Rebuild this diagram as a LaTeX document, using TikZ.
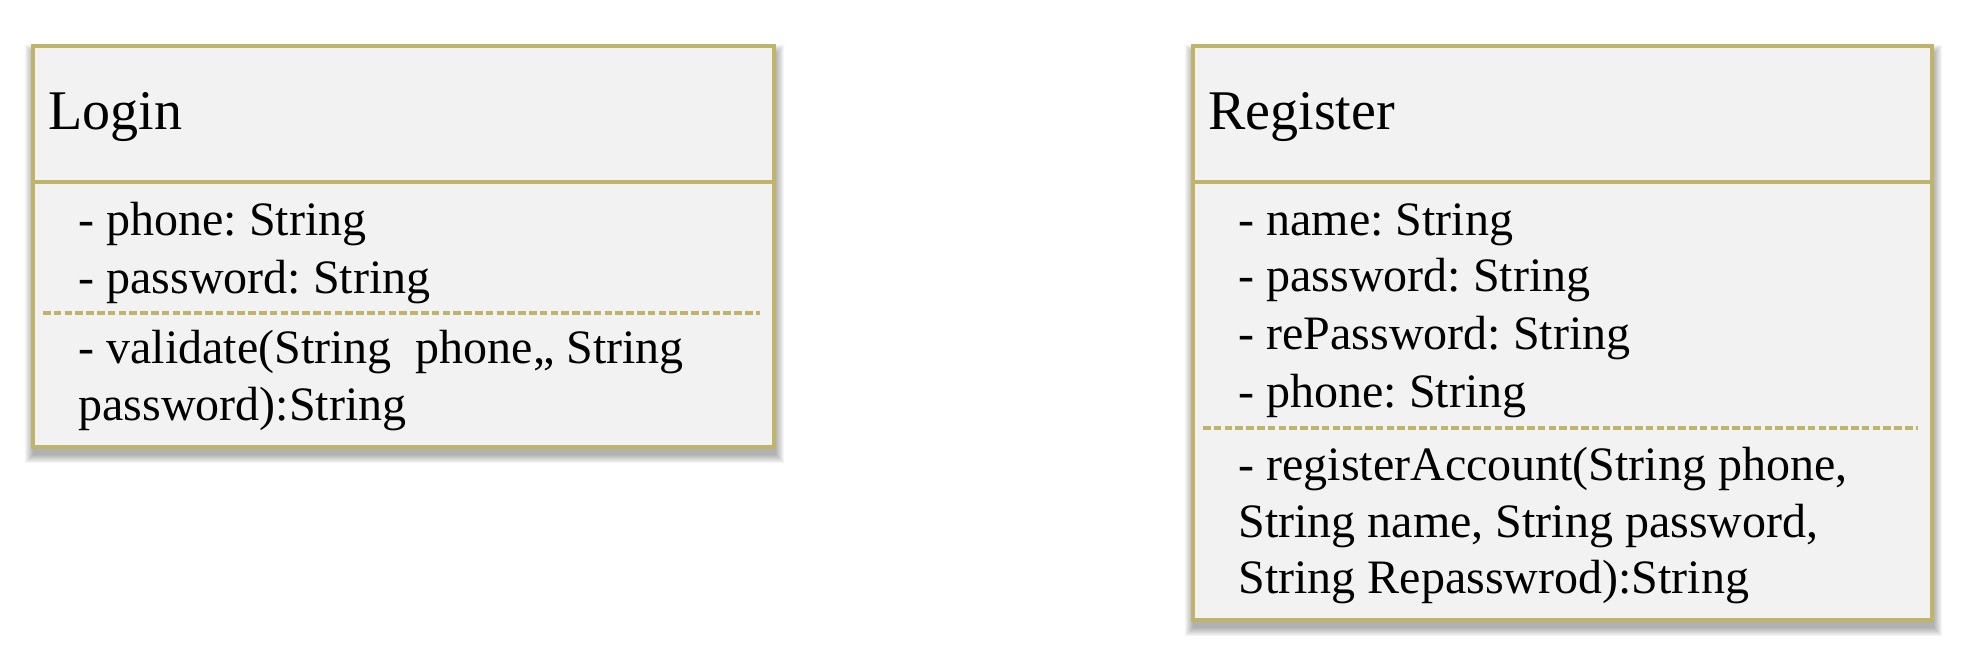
\documentclass[tikz,border=0pt]{standalone}
\usepackage{fontspec}
\setmainfont{Liberation Serif}
\frenchspacing
\definecolor{umlborder}{RGB}{190,180,106}
\definecolor{umlfill}{RGB}{242,242,242}
\begin{document}
\begin{tikzpicture}[x=0.5pt,y=-0.5pt,
  classbox/.style={draw=umlborder, line width=1.9pt, fill=umlfill, rectangle, inner sep=0pt, anchor=north west},
  divider/.style={draw=umlborder, line width=1.9pt},
  sepline/.style={draw=umlborder, line width=2pt, dash pattern=on 3.8pt off 1.6pt},
  hdr/.style={anchor=base west, inner sep=0pt, font=\fontsize{28}{34}\selectfont},
  txt/.style={anchor=base west, inner sep=0pt, font=\fontsize{24}{29}\selectfont},
  shadowlayer/.style={fill=black, opacity=0.04}]
\useasboundingbox (0,0) rectangle (1975,663);
% soft shadows
\foreach \i in {1,...,9} {
  \fill[shadowlayer] (34-\i,54-\i) rectangle (775+\i,454+\i);
  \fill[shadowlayer] (1194-\i,54-\i) rectangle (1933+\i,627+\i);
}
% Login class
\node[classbox, minimum width=370.5pt, minimum height=200.5pt] (login) at (31,44) {};
\draw[divider] (31,182) -- (772,182);
\draw[sepline] (43,313) -- (760,313);
\node[hdr] (loginname) at (48,130) {Login};
\node[txt] (la1) at (78,235) {- phone: String};
\node[txt] (la2) at (78,293) {- password: String};
\node[txt] (lm1) at (78,363) {- validate(String\ \ phone,, String};
\node[txt] (lm2) at (78,420) {password):String};
% Register class
\node[classbox, minimum width=369.5pt, minimum height=287pt] (register) at (1191,44) {};
\draw[divider] (1191,182) -- (1930,182);
\draw[sepline] (1203,428) -- (1918,428);
\node[hdr] (regname) at (1208,130) {Register};
\node[txt] (ra1) at (1238,235) {- name: String};
\node[txt] (ra2) at (1238,292) {- password: String};
\node[txt] (ra3) at (1238,350) {- rePassword: String};
\node[txt] (ra4) at (1238,407) {- phone: String};
\node[txt] (rm1) at (1238,480) {- registerAccount(String phone,};
\node[txt] (rm2) at (1238,537) {String name, String password,};
\node[txt] (rm3) at (1238,593) {String Repasswrod):String};
\end{tikzpicture}
\end{document}
